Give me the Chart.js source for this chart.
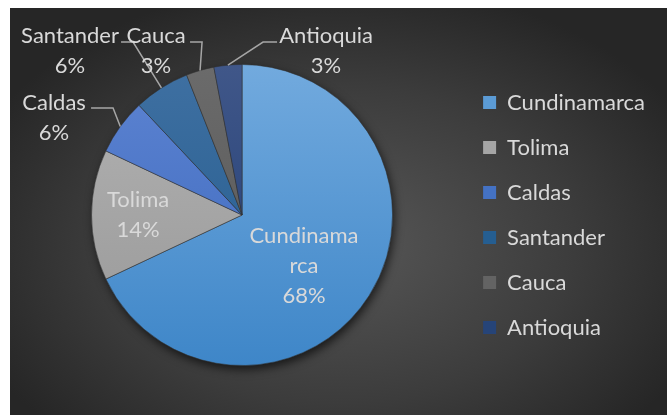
<!DOCTYPE html>
<html>
<head>
<meta charset="utf-8">
<script src="https://cdn.jsdelivr.net/npm/chart.js@4.4.1/dist/chart.umd.min.js"></script>
<style>
  html, body { margin: 0; padding: 0; background: #fff; }
  #bg {
    position: absolute; left: 10px; top: 8px; width: 657px; height: 407px;
    background: radial-gradient(ellipse 60% 65% at 50% 58%, #575757 0%, #3c3c3c 60%, #262626 100%);
  }
  #pie { position: absolute; left: 0; top: 0; }
</style>
</head>
<body>
<div id="bg"></div>
<canvas id="pie" width="667" height="415"></canvas>
<script>
// data
const regions = ['Cundinamarca', 'Tolima', 'Caldas', 'Santander', 'Cauca', 'Antioquia'];
const shares = [68, 14, 6, 6, 3, 3];

// slice colours (top of gradient, bottom of gradient, legend swatch)
const topColors = ['#72aade', '#b3b3b3', '#5d84d2', '#3f70a2', '#6b6b6b', '#405789'];
const bottomColors = ['#3e86c8', '#979797', '#3a66bb', '#215a8b', '#545454', '#1f3b73'];
const swatchColors = ['#5b9bd5', '#a5a5a5', '#4472c4', '#255e91', '#636363', '#264478'];

// where each data label goes, relative to the pie centre
const labelPlaces = [
  { dx: 62, dy: 51, lines: ['Cundinama', 'rca'] },
  { dx: -104, dy: 0 },
  { dx: -188, dy: -97, leader: [-151, -107, -129, -107] },
  { dx: -172, dy: -164, leader: [-121, -173, -109, -173] },
  { dx: -86, dy: -164, leader: [-52, -173, -40, -173] },
  { dx: 84, dy: -164, leader: [35, -173, 21, -173] }
];

const FONT = 'Lato, "Open Sans", sans-serif';
const FONT_SIZE = 22;

const sliceFill = (context) => {
  const i = context.dataIndex;
  const area = context.chart.chartArea;
  if (!area) return swatchColors[i];
  const g = context.chart.ctx.createLinearGradient(0, area.top, 0, area.bottom);
  g.addColorStop(0, topColors[i]);
  g.addColorStop(1, bottomColors[i]);
  return g;
};

// soft shadow under the pie
const pieShadow = {
  id: 'pieShadow',
  beforeDatasetsDraw(chart) {
    const arc = chart.getDatasetMeta(0).data[0];
    if (!arc) return;
    const ctx = chart.ctx;
    ctx.save();
    ctx.shadowColor = 'rgba(0,0,0,0.65)';
    ctx.shadowBlur = 10;
    ctx.shadowOffsetX = 2;
    ctx.shadowOffsetY = 4;
    ctx.fillStyle = '#2e2e2e';
    ctx.beginPath();
    ctx.arc(arc.x, arc.y, arc.outerRadius, 0, Math.PI * 2);
    ctx.fill();
    ctx.restore();
  }
};

// category name + percent labels, with leader lines for the small slices
const sliceLabels = {
  id: 'sliceLabels',
  afterDatasetsDraw(chart) {
    const ctx = chart.ctx;
    const meta = chart.getDatasetMeta(0);
    ctx.save();
    ctx.font = FONT_SIZE + 'px ' + FONT;
    ctx.textAlign = 'center';
    ctx.textBaseline = 'middle';
    meta.data.forEach((arc, i) => {
      const place = labelPlaces[i];
      const cx = arc.x, cy = arc.y;
      if (place.leader) {
        const mid = (arc.startAngle + arc.endAngle) / 2;
        const ex = cx + Math.cos(mid) * arc.outerRadius;
        const ey = cy + Math.sin(mid) * arc.outerRadius;
        ctx.strokeStyle = '#a6a6a6';
        ctx.lineWidth = 1.5;
        ctx.beginPath();
        ctx.moveTo(cx + place.leader[0], cy + place.leader[1]);
        ctx.lineTo(cx + place.leader[2], cy + place.leader[3]);
        ctx.lineTo(ex, ey);
        ctx.stroke();
      }
      const lines = (place.lines || [regions[i]]).concat(shares[i] + '%');
      const tx = cx + place.dx;
      const top = cy + place.dy - (lines.length - 1) * 30 / 2;
      ctx.fillStyle = '#d9d9d9';
      lines.forEach((t, k) => ctx.fillText(t, tx, top + k * 30));
    });
    ctx.restore();
  }
};

new Chart(document.getElementById('pie'), {
  type: 'pie',
  data: {
    labels: regions,
    datasets: [{
      data: shares,
      backgroundColor: sliceFill,
      borderColor: 'rgba(50,50,50,0.55)',
      borderWidth: 1
    }]
  },
  options: {
    responsive: false,
    animation: false,
    layout: { padding: { left: 24, top: 64, bottom: 49, right: 12 } },
    plugins: {
      tooltip: { enabled: false },
      legend: {
        position: 'right',
        labels: {
          boxWidth: 13,
          boxHeight: 13,
          padding: 23,
          color: '#d9d9d9',
          font: { family: FONT, size: FONT_SIZE },
          generateLabels: (chart) => regions.map((r, i) => ({
            text: r,
            fillStyle: swatchColors[i],
            strokeStyle: swatchColors[i],
            lineWidth: 0,
            fontColor: '#d9d9d9',
            index: i
          }))
        }
      }
    }
  },
  plugins: [pieShadow, sliceLabels]
});
</script>
</body>
</html>
